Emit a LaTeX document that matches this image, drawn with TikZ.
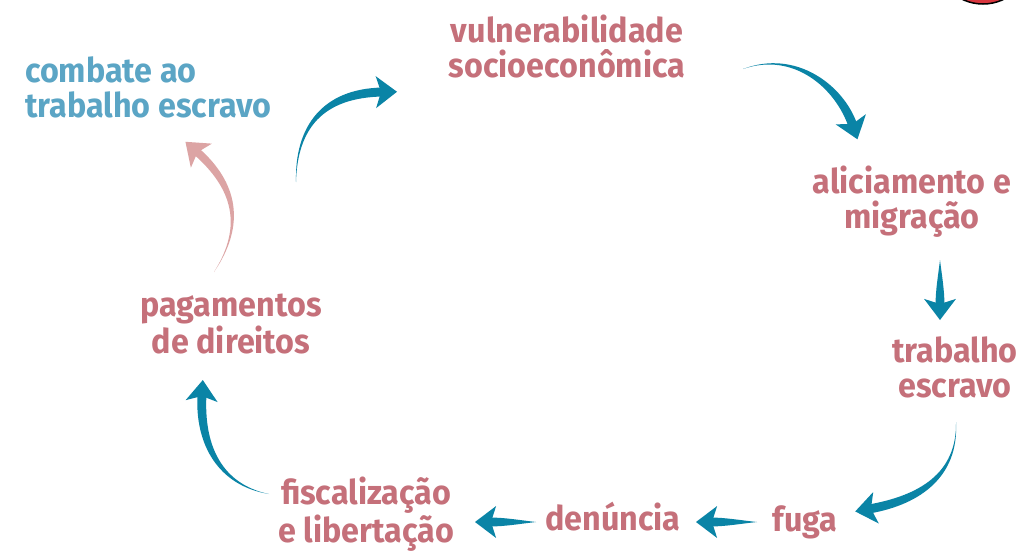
\documentclass[tikz,border=0pt]{standalone}
\usepackage{fontspec}
\newfontfamily\hand{Fira Sans}[FakeStretch=0.95]
\usetikzlibrary{calc}
\definecolor{txtred}{HTML}{C5707A}
\definecolor{txtblue}{HTML}{5BA5C5}
\definecolor{arrblue}{HTML}{0A84A6}
\definecolor{arrpink}{HTML}{DCA4A4}
\definecolor{dotred}{HTML}{D9363E}
\newcommand\taperarrow[6]{%
  \fill[#6] (#1) .. controls ($(#2)!0.4*#5!-90:(#3)$) and ($(#3)!#5!-90:(#4)$) .. ($(#4)!#5!90:(#3)$)
    -- ($(#4)!#5!-90:(#3)$) .. controls ($(#3)!#5!90:(#4)$) and ($(#2)!0.4*#5!90:(#3)$) .. (#1) -- cycle;
  \fill[#6] ($(#4)!-14pt!(#3)$) -- ($(#4)!17.5pt!66:(#3)$) -- ($(#4)!2pt!(#3)$) -- ($(#4)!17.5pt!-66:(#3)$) -- cycle;
}
\tikzset{
  lbl/.style={font=\hand\bfseries\fontsize{34}{35}\selectfont, text=txtred, align=center, inner sep=0pt, anchor=base},
}
\begin{document}
\begin{tikzpicture}[x=1pt,y=-1pt]
\fill[white] (0,0) rectangle (1026,552);
\useasboundingbox (0,0) rectangle (1026,552);
\begin{scope}
\clip (0,0) rectangle (1026,552);
\filldraw[fill=dotred, draw=black, line width=1.5pt] (983,-44) circle (48);
\end{scope}

% labels (anchor base = baseline of the last line)
\node[lbl] (vul) at (567,77) {vulnerabilidade\\socioeconômica};
\node[lbl, text=txtblue, align=left, anchor=base west] (com) at (25,117) {combate ao\\trabalho escravo};
\node[lbl] (ali) at (912,228) {aliciamento e\\migração};
\node[lbl] (tra) at (955,397) {trabalho\\escravo};
\node[lbl] (fug) at (805,531) {fuga};
\node[lbl] (den) at (613,530) {denúncia};
\node[lbl] (fis) at (366,542) {fiscalização\\e libertação};
\node[lbl] (pag) at (231,353) {pagamentos\\de direitos};

% arrow control coordinates
\coordinate (a1t) at (296,182); \coordinate (a1a) at (296,128); \coordinate (a1b) at (322,93);  \coordinate (a1e) at (383,92);
\coordinate (a2t) at (743,69);  \coordinate (a2a) at (795,50);  \coordinate (a2b) at (840,87);  \coordinate (a2e) at (853,126);
\coordinate (a3t) at (940,260); \coordinate (a3a) at (940,275); \coordinate (a3b) at (940,290); \coordinate (a3e) at (940,306);
\coordinate (a4t) at (956,422); \coordinate (a4a) at (958,475); \coordinate (a4b) at (920,500); \coordinate (a4e) at (869,509);
\coordinate (a5t) at (757,522); \coordinate (a5a) at (740,522); \coordinate (a5b) at (725,522); \coordinate (a5e) at (710,522);
\coordinate (a6t) at (536,522); \coordinate (a6a) at (520,522); \coordinate (a6b) at (505,522); \coordinate (a6e) at (489,522);
\coordinate (a7t) at (269,494); \coordinate (a7a) at (220,485); \coordinate (a7b) at (199,445); \coordinate (a7e) at (202,394);
\coordinate (a8t) at (214,272); \coordinate (a8a) at (245,225); \coordinate (a8b) at (235,185); \coordinate (a8e) at (196,151);

\taperarrow{a1t}{a1a}{a1b}{a1e}{4.5pt}{arrblue}
\taperarrow{a2t}{a2a}{a2b}{a2e}{4.5pt}{arrblue}
\taperarrow{a3t}{a3a}{a3b}{a3e}{4.5pt}{arrblue}
\taperarrow{a4t}{a4a}{a4b}{a4e}{4.5pt}{arrblue}
\taperarrow{a5t}{a5a}{a5b}{a5e}{4.5pt}{arrblue}
\taperarrow{a6t}{a6a}{a6b}{a6e}{4.5pt}{arrblue}
\taperarrow{a7t}{a7a}{a7b}{a7e}{4.5pt}{arrblue}
\taperarrow{a8t}{a8a}{a8b}{a8e}{4pt}{arrpink}
\end{tikzpicture}
\end{document}
